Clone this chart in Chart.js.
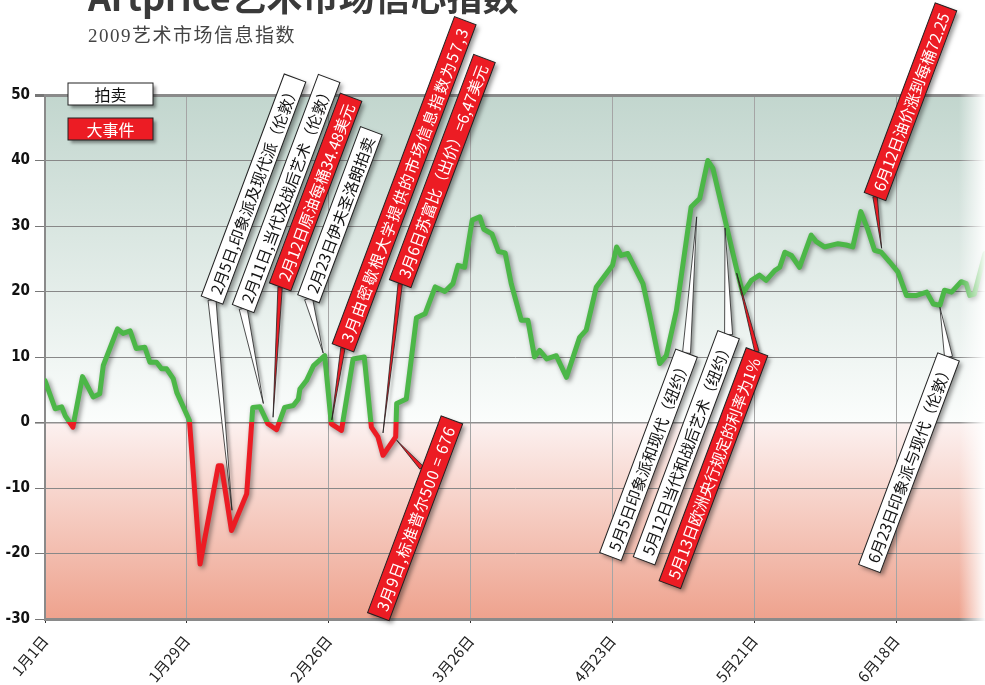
<!DOCTYPE html>
<html>
<head>
<meta charset="utf-8">
<script src="https://cdn.jsdelivr.net/npm/chart.js@4.4.1/dist/chart.umd.min.js"></script>
<style>
  html, body { margin: 0; padding: 0; background: #fff; overflow: hidden; }
  #wrap { position: relative; width: 985px; height: 685px; }
  canvas { position: absolute; left: 0; top: 0; }
  #title {
    position: absolute; left: 88px; top: -31px; line-height: 1; white-space: nowrap;
    font: bold 36px 'Noto Sans CJK SC', 'Open Sans', sans-serif; color: #3a3a3a;
  }
  #sub {
    position: absolute; left: 88px; top: 20px; line-height: 1; white-space: nowrap;
    font: 19px 'Liberation Serif', 'Noto Sans CJK SC', serif; color: #444; letter-spacing: 1.5px;
  }
</style>
</head>
<body>
<div id="wrap">
  <canvas id="chart" width="985" height="685"></canvas>
  <div id="title">Artprice艺术市场信心指数</div>
  <div id="sub">2009艺术市场信息指数</div>
</div>
<script>
// days since 1 Jan 2009
const days = [0, 2, 3.3, 4, 5.5, 7.4, 9.5, 10.8, 11.5, 14.3, 15.4, 16.8, 18, 19.7, 20.7, 22, 23, 24, 25.3, 26,
  28.5, 30.6, 34.2, 34.8, 36.8, 39.8, 41, 42.4, 44, 45.7, 47.3, 49, 50, 50.3, 51.6, 53, 55.2, 56.5, 58.5, 60.8,
  63, 64.4, 65.7, 66.7, 69.2, 69.4, 71.3, 73.3, 75, 77, 78.9, 80.5, 81.5, 82.8, 84.3, 85.8, 86.6, 88.2, 89.5, 90.8,
  92, 94, 95.3, 96.6, 97.6, 99, 100.9, 102.9, 105.5, 106.8, 108.8, 112, 112.8, 113.7, 115, 118, 119.3, 121.3, 122.6, 124.6,
  127.5, 129.2, 130.8, 131.8, 136.4, 137.7, 139.4, 141, 142.3, 144, 145, 146, 147.3, 148.9, 151.2, 152.2, 153.8, 156.5, 158.1, 159.4,
  161, 162.4, 163.7, 165, 166.7, 168.3, 170, 172, 174, 175.3, 176.6, 177.5, 178.9, 180.8, 181.8, 182.5, 183.4, 185.5];

// confidence index values
const index = [6.4, 2.1, 2.4, 1.0, -0.7, 7.0, 3.9, 4.4, 8.7, 14.3, 13.6, 14.0, 11.3, 11.5, 9.2, 9.2, 8.2, 8.2, 6.7, 4.6,
  0.3, -21.6, -6.6, -6.6, -16.5, -10.9, 2.3, 2.4, -0.2, -1.1, 2.3, 2.6, 3.6, 5.1, 6.4, 8.7, 10.2, -0.2, -1.2, 9.7,
  10.0, -0.7, -2.2, -5.0, -2.2, 2.9, 3.6, 16.0, 16.6, 20.7, 20.0, 21.2, 24.0, 23.7, 30.9, 31.4, 29.5, 28.8, 26.1, 25.9,
  21.2, 15.6, 15.6, 10.0, 11.0, 9.7, 10.2, 6.9, 13.0, 14.1, 20.7, 24.0, 26.8, 25.5, 25.8, 21.2, 16.6, 9.0, 10.2, 17.1,
  32.9, 34.2, 40.0, 38.8, 23.7, 19.7, 21.7, 22.5, 21.7, 23.2, 23.7, 26.0, 25.5, 23.7, 28.6, 27.6, 26.8, 27.3, 27.1, 26.8,
  32.2, 29.4, 26.3, 26.0, 24.5, 23.0, 19.4, 19.4, 19.9, 18.1, 17.9, 20.2, 19.9, 21.5, 21.2, 19.4, 19.6, 25.8];

const tickDays = [0, 28, 56, 84, 112, 140, 168];
const tickLabels = ['1月1日', '1月29日', '2月26日', '3月26日', '4月23日', '5月21日', '6月18日'];

const legendLabels = ['拍卖', '大事件'];

// callouts: tip = point on the curve, box = centre of the box end nearest the curve
const notes = [
  { text: '2月5日,印象派及现代派（伦敦）', kind: 'auction', dir: 'up', tip: [36.9, -13.4], box: [32.96, 18.7] },
  { text: '2月11日,当代及战后艺术（伦敦）', kind: 'auction', dir: 'up', tip: [43.1, 2.9], box: [39.1, 17.4] },
  { text: '2月12日原油每桶34.48美元', kind: 'event', dir: 'up', tip: [45.0, 0.8], box: [46.4, 20.7] },
  { text: '2月23日伊夫圣洛朗拍卖', kind: 'auction', dir: 'up', tip: [54.9, 10.6], box: [52.0, 18.9] },
  { text: '3月由密歇根大学提供的市场信息指数为57,3', kind: 'event', dir: 'up', tip: [56.6, 0.4], box: [58.8, 11.4], spacing: 1.5 },
  { text: '3月6日苏富比（出价）=6,47美元', kind: 'event', dir: 'up', tip: [66.7, -1.6], box: [70.1, 21.2] },
  { text: '3月9日,标准普尔500 = 676', kind: 'event', dir: 'down', tip: [69.4, -2.7], box: [80.3, 0.4], base: [74.3, -6.9], spacing: 0.8 },
  { text: '5月5日印象派和现代（纽约）', kind: 'auction', dir: 'down', tip: [128.6, 31.4], box: [126.6, 10.6] },
  { text: '5月12日当代和战后艺术（纽约）', kind: 'auction', dir: 'down', tip: [134.2, 29.7], box: [134.9, 13.4] },
  { text: '5月13日欧洲央行规定的利率为1%', kind: 'event', dir: 'down', tip: [136.5, 22.8], box: [140.5, 10.8] },
  { text: '6月23日印象派与现代（伦敦）', kind: 'auction', dir: 'down', tip: [176.6, 17.6], box: [178.3, 10.0] },
  { text: '6月12日油价涨到每桶72.25', kind: 'event', dir: 'up', tip: [165.1, 26.6], box: [163.8, 34.5] }
];

const GREEN = '#4cb748';
const RED = '#ec1c24';
const CJK = "'Noto Sans CJK SC', sans-serif";
const ANG = -69.5 * Math.PI / 180;
const UX = Math.cos(ANG), UY = Math.sin(ANG);
const BOX_H = 23;

function lineColor(context) {
  const chart = context.chart;
  const area = chart.chartArea;
  if (!area) return GREEN;
  const y0 = chart.scales.y.getPixelForValue(0);
  const f = Math.min(Math.max((y0 - area.top) / (area.bottom - area.top), 0), 1);
  const g = chart.ctx.createLinearGradient(0, area.top, 0, area.bottom);
  g.addColorStop(0, GREEN);
  g.addColorStop(f, GREEN);
  g.addColorStop(f, RED);
  g.addColorStop(1, RED);
  return g;
}

function drawNote(chart, n) {
  const { ctx, scales: { x, y } } = chart;
  const px = p => [x.getPixelForValue(p[0]), y.getPixelForValue(p[1])];
  const red = n.kind === 'event';
  const fill = red ? RED : '#fff';
  ctx.save();
  ctx.font = '15.5px ' + CJK;
  ctx.letterSpacing = (n.spacing || 0) + 'px';
  const len = ctx.measureText(n.text).width + 14;
  const [ex, ey] = px(n.box);
  const sx = n.dir === 'up' ? ex : ex - UX * len;
  const sy = n.dir === 'up' ? ey : ey - UY * len;
  const [bx, by] = n.base ? px(n.base) : [ex, ey];
  const [tx, ty] = px(n.tip);

  // leader wedge
  const dx = tx - bx, dy = ty - by, d = Math.hypot(dx, dy);
  const nx = -dy / d, ny = dx / d, hw = red ? 2.2 : 4;
  ctx.shadowColor = 'rgba(0,0,0,0.35)';
  ctx.shadowBlur = 3;
  ctx.shadowOffsetX = 3;
  ctx.shadowOffsetY = 2;
  ctx.beginPath();
  ctx.moveTo(bx + nx * hw, by + ny * hw);
  ctx.lineTo(tx, ty);
  ctx.lineTo(bx - nx * hw, by - ny * hw);
  ctx.closePath();
  ctx.fillStyle = fill;
  ctx.fill();
  ctx.shadowColor = 'transparent';
  ctx.strokeStyle = '#222';
  ctx.lineWidth = 0.8;
  ctx.stroke();

  // box
  ctx.translate(sx, sy);
  ctx.rotate(ANG);
  ctx.shadowColor = 'rgba(0,0,0,0.4)';
  ctx.shadowBlur = 4;
  ctx.shadowOffsetX = 3;
  ctx.shadowOffsetY = 3;
  ctx.fillStyle = fill;
  ctx.fillRect(0, -BOX_H / 2, len, BOX_H);
  ctx.shadowColor = 'transparent';
  ctx.lineWidth = 1;
  ctx.strokeRect(0, -BOX_H / 2, len, BOX_H);
  ctx.fillStyle = red ? '#fff' : '#111';
  ctx.textBaseline = 'middle';
  ctx.fillText(n.text, 7, 1);
  ctx.restore();
}

function legendBox(ctx, x, y, text, red) {
  ctx.save();
  ctx.shadowColor = 'rgba(0,0,0,0.4)';
  ctx.shadowBlur = 3;
  ctx.shadowOffsetX = 3;
  ctx.shadowOffsetY = 3;
  ctx.fillStyle = red ? RED : '#fff';
  ctx.fillRect(x, y, 85, 22);
  ctx.shadowColor = 'transparent';
  ctx.strokeStyle = '#222';
  ctx.lineWidth = 1;
  ctx.strokeRect(x, y, 85, 22);
  ctx.fillStyle = red ? '#fff' : '#111';
  ctx.font = '16px ' + CJK;
  ctx.textAlign = 'center';
  ctx.textBaseline = 'middle';
  ctx.fillText(text, x + 42.5, y + 12);
  ctx.restore();
}

const decor = {
  id: 'decor',
  beforeDraw(chart) {
    const { ctx, chartArea: a, scales: { y } } = chart;
    const y0 = y.getPixelForValue(0);
    ctx.save();
    let g = ctx.createLinearGradient(0, a.top, 0, y0);
    g.addColorStop(0, '#c2d6ce');
    g.addColorStop(1, '#fbfdfc');
    ctx.fillStyle = g;
    ctx.fillRect(a.left, a.top, a.width, y0 - a.top);
    g = ctx.createLinearGradient(0, y0, 0, a.bottom);
    g.addColorStop(0, '#fcf1f0');
    g.addColorStop(1, '#eea28d');
    ctx.fillStyle = g;
    ctx.fillRect(a.left, y0, a.width, a.bottom - y0);
    ctx.restore();
  },
  beforeDatasetDraw(chart) {
    const c = chart.ctx;
    c.save();
    c.shadowColor = 'rgba(0,0,0,0.45)';
    c.shadowBlur = 5;
    c.shadowOffsetX = 2;
    c.shadowOffsetY = 2;
  },
  afterDatasetDraw(chart) {
    chart.ctx.restore();
  },
  afterDatasetsDraw(chart) {
    const { ctx, chartArea: a } = chart;
    // white fade on the right edge
    const g = ctx.createLinearGradient(a.right - 26, 0, a.right, 0);
    g.addColorStop(0, 'rgba(255,255,255,0)');
    g.addColorStop(1, 'rgba(255,255,255,0.95)');
    ctx.fillStyle = g;
    ctx.fillRect(a.right - 26, a.top - 3, 26, a.bottom - a.top + 6);

    notes.forEach(n => drawNote(chart, n));
    legendBox(ctx, a.left + 23, a.top - 12, legendLabels[0], false);
    legendBox(ctx, a.left + 23, a.top + 23, legendLabels[1], true);
  }
};

new Chart(document.getElementById('chart'), {
  type: 'line',
  data: {
    datasets: [{
      data: days.map((d, i) => ({ x: d, y: index[i] })),
      borderColor: lineColor,
      borderWidth: 5,
      borderJoinStyle: 'round',
      borderCapStyle: 'round',
      pointRadius: 0,
      tension: 0,
      fill: false
    }]
  },
  options: {
    responsive: false,
    animation: false,
    layout: { padding: { top: 95, left: 0, right: 0, bottom: 0 } },
    plugins: { legend: { display: false }, tooltip: { enabled: false } },
    scales: {
      x: {
        type: 'linear',
        min: 0,
        max: 185.5,
        afterBuildTicks: s => { s.ticks = tickDays.map(v => ({ value: v })); },
        afterFit: s => { s.height = 66; },
        grid: { color: '#a5a5a5', lineWidth: 1, tickLength: 4, tickColor: '#333' },
        border: { color: '#8a8a8a', width: 3 },
        ticks: {
          autoSkip: false,
          minRotation: 50,
          maxRotation: 50,
          padding: 9,
          color: '#222',
          font: { family: CJK, size: 15 },
          callback: v => tickLabels[tickDays.indexOf(v)] ?? ''
        }
      },
      y: {
        min: -30,
        max: 50,
        afterFit: s => { s.width = 45; },
        grid: {
          color: c => c.tick.value === 50 ? '#8a8a8a' : (c.tick.value === 0 ? '#8f8f8f' : '#888'),
          lineWidth: c => c.tick.value === 50 ? 3 : (c.tick.value === 0 ? 1.6 : 1),
          tickLength: 10,
          tickColor: '#777'
        },
        border: { color: '#8a8a8a', width: 2 },
        ticks: {
          stepSize: 10,
          padding: 5,
          color: '#111',
          font: { family: "'Liberation Sans Narrow', 'DejaVu Sans Condensed', sans-serif", size: 15, weight: 'bold' }
        }
      }
    }
  },
  plugins: [decor]
});
</script>
</body>
</html>
